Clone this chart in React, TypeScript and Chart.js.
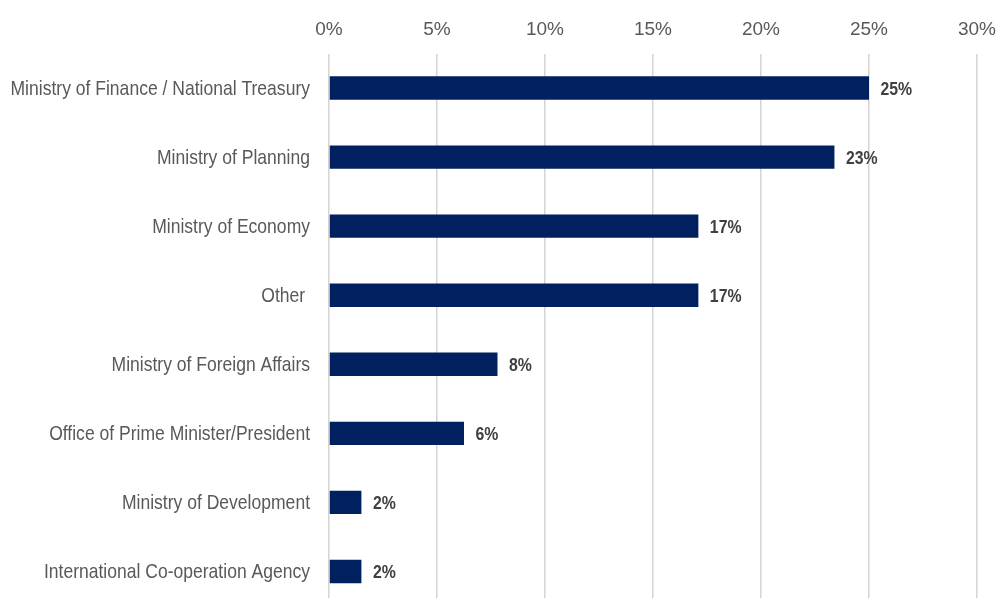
import React, { useEffect, useRef } from "react";
import { Chart, registerables } from "chart.js";

Chart.register(...registerables);

const categories: string[] = [
  "Ministry of Finance / National Treasury",
  "Ministry of Planning",
  "Ministry of Economy",
  "Other ",
  "Ministry of Foreign Affairs",
  "Office of Prime Minister/President",
  "Ministry of Development",
  "International Co-operation Agency",
];

const values: number[] = [25.0, 23.4, 17.1, 17.1, 7.8, 6.25, 1.5, 1.5];
const valueLabels: string[] = ["25%", "23%", "17%", "17%", "8%", "6%", "2%", "2%"];
const xTicks: number[] = [0, 5, 10, 15, 20, 25, 30];

const FONT = "'Liberation Sans', Arial, sans-serif";

// Narrow-looking category labels and bold value labels
const textPlugin = {
  id: "narrowText",
  afterDatasetsDraw(chart: any) {
    const ctx = chart.ctx;
    const yScale = chart.scales.y;
    const meta = chart.getDatasetMeta(0);
    ctx.save();
    ctx.font = `21px ${FONT}`;
    ctx.fillStyle = "#595959";
    ctx.textAlign = "right";
    ctx.textBaseline = "middle";
    categories.forEach((label, i) => {
      const y = yScale.getPixelForTick(i);
      ctx.save();
      ctx.translate(yScale.right - 19, y + 1);
      ctx.scale(0.835, 1);
      ctx.fillText(label, 0, 0);
      ctx.restore();
    });
    ctx.font = `bold 18px ${FONT}`;
    ctx.fillStyle = "#404040";
    ctx.textAlign = "left";
    meta.data.forEach((el: any, i: number) => {
      ctx.save();
      ctx.translate(el.x + 11.5, el.y + 1.5);
      ctx.scale(0.88, 1);
      ctx.fillText(valueLabels[i], 0, 0);
      ctx.restore();
    });
    ctx.restore();
  },
};

export default function App() {
  const canvasRef = useRef<HTMLCanvasElement | null>(null);

  useEffect(() => {
    if (!canvasRef.current) return;
    const chart = new Chart(canvasRef.current, {
      type: "bar",
      data: {
        labels: categories,
        datasets: [
          {
            data: values,
            backgroundColor: "#002060",
            borderWidth: 0,
            barPercentage: 0.338,
            categoryPercentage: 1,
          },
        ],
      },
      options: {
        indexAxis: "y",
        responsive: false,
        animation: false,
        devicePixelRatio: 1,
        layout: { padding: { top: 0, right: 23, bottom: 0, left: 0 } },
        plugins: {
          legend: { display: false },
          tooltip: { enabled: false },
        },
        scales: {
          x: {
            position: "top",
            min: 0,
            max: 30,
            afterBuildTicks: (scale: any) => {
              scale.ticks = xTicks.map((v) => ({ value: v }));
            },
            afterFit: (scale: any) => {
              scale.height = 53.5;
              scale.paddingLeft = 0;
              scale.paddingRight = 0;
            },
            grid: {
              color: "#d4d4d4",
              lineWidth: 1.5,
              drawTicks: false,
            },
            border: { display: false },
            ticks: {
              padding: 12,
              color: "#595959",
              font: { family: FONT, size: 19 },
              callback: (v: any) => `${v}%`,
            },
          },
          y: {
            afterFit: (scale: any) => {
              scale.width = 329;
              scale.paddingTop = 0;
              scale.paddingBottom = 0;
            },
            grid: { display: false, drawTicks: false },
            border: { display: false },
            ticks: { display: false },
          },
        },
      },
      plugins: [textPlugin],
    } as any);
    return () => chart.destroy();
  }, []);

  return (
    <div
      style={{
        position: "absolute",
        left: 0,
        top: 0,
        width: 1000,
        height: 598,
        overflow: "hidden",
        background: "#ffffff",
      }}
    >
      <canvas
        ref={canvasRef}
        width={1000}
        height={606}
        style={{ display: "block", width: 1000, height: 606 }}
      />
    </div>
  );
}
